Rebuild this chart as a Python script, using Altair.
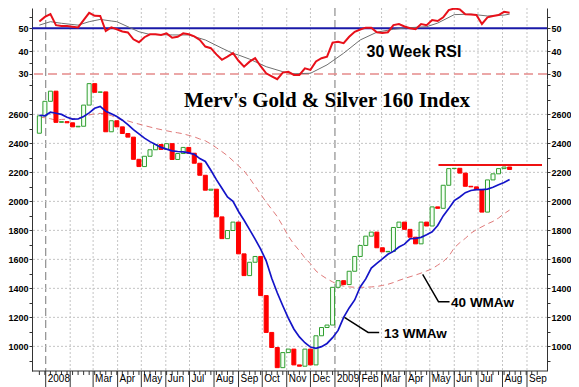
import altair as alt
import pandas as pd

# ---------------- values ----------------
TITLE = "Merv's Gold & Silver 160 Index"
RSI_LABEL = "30 Week RSI"
MA13_LABEL = "13 WMAw"
MA40_LABEL = "40 WMAw"

first_week = "2007-12-24"
first_open = 2470
closes = [2590, 2690, 2760, 2545, 2550, 2542, 2514, 2518, 2664, 2812,
          2752, 2755, 2480, 2556, 2514, 2468, 2443, 2290, 2240, 2311,
          2356, 2392, 2358, 2398, 2289, 2330, 2372, 2332, 2263, 2180,
          2077, 2084, 1893, 1743, 1799, 1857, 1638, 1488, 1580, 1620,
          1350, 1096, 992, 853, 957, 981, 872, 863, 981, 872,
          1073, 1130, 1147, 1407, 1453, 1426, 1518, 1620, 1696, 1760,
          1788, 1680, 1652, 1655, 1820, 1857, 1807, 1753, 1707, 1857,
          1830, 1962, 1952, 2111, 2226, 2228, 2195, 2104, 2100, 2081,
          1926, 2148, 2190, 2226, 2237, 2220]
ma13 = [2594, 2590, 2615, 2608, 2600, 2580, 2567, 2568, 2585, 2610,
        2642, 2655, 2622, 2605, 2585, 2560, 2530, 2495, 2465, 2436,
        2412, 2392, 2372, 2360, 2348, 2344, 2341, 2334, 2324, 2295,
        2275, 2215, 2150, 2090, 2030, 2000, 1930, 1870, 1805, 1740,
        1670, 1590, 1470, 1370, 1280, 1195, 1120, 1065, 1025, 995,
        986, 998, 1020, 1060, 1110, 1200, 1265, 1320, 1410, 1465,
        1540, 1572, 1603, 1635, 1655, 1685, 1705, 1742, 1745, 1752,
        1770, 1790, 1834, 1900, 1950, 2005, 2030, 2060, 2075, 2081,
        2081, 2085, 2097, 2115, 2130, 2150]
ma40 = [2580, 2577, 2570, 2560, 2565, 2567, 2570, 2575, 2585, 2596,
        2604, 2607, 2602, 2592, 2573, 2562, 2555, 2543, 2533, 2523,
        2513, 2503, 2495, 2487, 2479, 2473, 2466, 2455, 2445, 2430,
        2418, 2395, 2370, 2343, 2315, 2280, 2245, 2210, 2160, 2105,
        2050, 1995, 1945, 1895, 1830, 1760, 1705, 1660, 1610, 1570,
        1520, 1490, 1465, 1445, 1425, 1415, 1410, 1408, 1407, 1408,
        1410, 1413, 1420, 1428, 1440, 1455, 1468, 1480, 1492, 1505,
        1520, 1535, 1560, 1585, 1620, 1680, 1715, 1745, 1780, 1805,
        1825, 1845, 1862, 1885, 1915, 1940]
rsi = [53.0, 55.0, 56.2, 51.4, 51.0, 51.0, 50.7, 50.4, 53.6, 56.8,
       55.5, 55.4, 48.8, 50.4, 49.6, 48.6, 48.2, 45.2, 43.9, 46.1,
       47.4, 47.4, 47.1, 47.8, 45.9, 46.3, 47.8, 47.4, 46.5, 44.9,
       42.0, 41.3, 38.6, 36.2, 37.6, 39.1, 35.8, 33.2, 35.4, 36.9,
       33.4, 30.3, 29.0, 27.7, 30.6, 31.0, 29.6, 29.6, 32.5, 31.8,
       35.5, 36.9, 37.6, 43.7, 44.1, 43.5, 46.3, 48.5, 49.5, 50.3,
       50.3, 48.3, 48.0, 48.3, 51.4, 51.9, 50.8, 50.0, 49.6, 51.9,
       51.4, 53.6, 53.2, 54.8, 58.0, 58.7, 58.3, 56.2, 56.0, 55.8,
       51.9, 54.8, 55.4, 55.8, 57.2, 56.8]
rsi_signal_weeks = [0, 2, 4, 7, 9, 11, 13, 14, 16, 18, 20, 24, 27, 30, 33, 35, 36,
                    38, 41, 44, 46, 49, 52, 55, 58, 61, 64, 67, 70, 72, 75, 78,
                    81, 84, 85]
rsi_signal = [51.4, 52.9, 52.2, 51.4, 52.9, 53.9, 53.2, 52.9, 50.7, 48.5, 47.3,
              47.1, 47.1, 44.9, 41.3, 39.0, 38.3, 36.5, 33.2, 31.0, 30.1, 30.3,
              34.0, 39.1, 44.9, 48.3, 49.6, 50.3, 50.7, 52.3, 56.0, 56.2, 55.4,
              55.8, 56.2]

month_labels = ["2008", "", "Mar", "Apr", "May", "Jun", "Jul", "Aug", "Sep", "Oct",
                "Nov", "Dec", "2009", "Feb", "Mar", "Apr", "May", "Jun", "Jul",
                "Aug", "Sep"]
price_grid = [1000, 1200, 1400, 1600, 1800, 2000, 2200, 2400, 2600]
price_ticks = [900, 1000, 1100, 1200, 1300, 1400, 1500, 1600, 1700, 1800, 1900,
               2000, 2100, 2200, 2300, 2400, 2500, 2600, 2700, 2800]
rsi_ticks = [30, 35, 40, 45, 50, 55]
rsi_grid = [40]
rsi_mid = 50
rsi_low = 30
year_lines = ["2008-01-01", "2009-01-01"]
resistance_dates = ["2009-05-12", "2009-09-20"]
resistance_level = 2250
callout13_dates = ["2009-01-13", "2009-02-12", "2009-02-26"]
callout13_values = [1200, 1096, 1096]
callout40_dates = ["2009-04-22", "2009-05-12", "2009-05-26"]
callout40_values = [1497, 1308, 1308]
title_pos = ("2008-12-22", 2653)
ma13_text_pos = ("2009-03-04", 1061)
ma40_text_pos = ("2009-05-28", 1269)
rsi_text_pos = ("2009-04-11", 37.6)

# ---------------- tables ----------------
weeks = pd.date_range(first_week, periods=len(closes), freq="7D")
opens = [first_open] + closes[:-1]
candles = pd.DataFrame({
    "date": weeks, "open": opens, "close": closes,
    "dir": ["up" if c >= o else "down" for o, c in zip(opens, closes)],
})
ma13_df = pd.DataFrame({"date": weeks, "v": ma13})
ma40_df = pd.DataFrame({"date": weeks, "v": ma40})
rsi_df = pd.DataFrame({"date": weeks, "v": rsi})
sig_df = pd.DataFrame({"date": [weeks[i] for i in rsi_signal_weeks], "v": rsi_signal})
month_starts = pd.date_range("2008-01-01", periods=len(month_labels), freq="MS")
months_df = pd.DataFrame({"date": month_starts, "t": month_labels})
month_grid_df = pd.DataFrame({"date": [d for d in month_starts if d.month != 1]})
year_df = pd.DataFrame({"date": pd.to_datetime(year_lines)})
week_ticks_df = pd.DataFrame({"date": pd.date_range(first_week, "2009-09-20", freq="7D")})
price_grid_df = pd.DataFrame({"v": price_grid})
rsi_grid_df = pd.DataFrame({"v": rsi_grid})
res_df = pd.DataFrame({"date": pd.to_datetime(resistance_dates), "v": [resistance_level] * 2})
c13_df = pd.DataFrame({"date": pd.to_datetime(callout13_dates), "v": callout13_values, "o": [0, 1, 2]})
c40_df = pd.DataFrame({"date": pd.to_datetime(callout40_dates), "v": callout40_values, "o": [0, 1, 2]})


def one_text(pos, text):
    return pd.DataFrame({"date": [pd.Timestamp(pos[0])], "v": [pos[1]], "t": [text]})


# ---------------- geometry / scales / axes ----------------
W = 515          # plot width
H_RSI = 71       # RSI strip height (top of plot)
H = 363          # whole plot height (RSI strip + price strip)
PAD_L, PAD_R, PAD_B = 24, 24, 16
xs = alt.Scale(domain=[alt.DateTime(year=2007, month=12, date=21),
                       alt.DateTime(year=2009, month=9, date=20)], nice=False)
ys = alt.Scale(domain=[830, 2844], range=[H, H_RSI], nice=False, zero=False)
rs = alt.Scale(domain=[27.8, 58.9], range=[H_RSI, 0], nice=False, zero=False)
LINE = "#333333"


def yaxis(orient, values, expr):
    return alt.Axis(orient=orient, values=values, labelExpr=expr, format="d", title=None,
                    grid=False, tickSize=3, labelPadding=1, labelFont="Liberation Sans",
                    labelFontSize=9, labelFontWeight="bold", labelColor="black",
                    domainColor=LINE, tickColor=LINE, labelOverlap=False)


price_expr = "(datum.value % 200 == 0 && datum.value <= 2600) ? datum.label : ''"
rsi_expr = "datum.value % 10 == 0 ? datum.label : ''"


def X():
    return alt.X("date:T", scale=xs, axis=None)


def YP(field="v", axis=None):
    return alt.Y(f"{field}:Q", scale=ys, axis=axis)


def YR(field="v", axis=None):
    return alt.Y(f"{field}:Q", scale=rs, axis=axis)


grid_style = dict(color="#c4c4c4", strokeDash=[2, 2], strokeWidth=1)

vgrid = alt.Chart(month_grid_df).mark_rule(**grid_style).encode(x=X())
years = alt.Chart(year_df).mark_rule(color="#8f8f8f", strokeDash=[8, 4], strokeWidth=1.2).encode(x=X())

# bottom date axis built from marks
x_line = alt.Chart(pd.DataFrame({"k": [0]})).mark_rule(color=LINE).encode(y=alt.value(H))
m_ticks = alt.Chart(months_df).mark_rule(color=LINE).encode(x=X(), y=alt.value(H), y2=alt.value(H + 16))
w_ticks = alt.Chart(week_ticks_df).mark_rule(color=LINE).encode(x=X(), y=alt.value(H), y2=alt.value(H + 4))
m_text = alt.Chart(months_df).mark_text(
    font="Liberation Sans", fontSize=10, align="left", baseline="top", dx=2, color="black").encode(
    x=X(), y=alt.value(H + 3), text="t:N")

# RSI strip
r_grid = alt.Chart(rsi_grid_df).mark_rule(**grid_style).encode(
    y=YR(axis=yaxis("right", rsi_ticks, rsi_expr)))
r_mid = alt.Chart(pd.DataFrame({"v": [rsi_mid]})).mark_rule(color="#1a1aa8", strokeWidth=2).encode(y=YR())
r_low = alt.Chart(pd.DataFrame({"v": [rsi_low]})).mark_rule(
    color="#e58a8a", strokeWidth=1.5, strokeDash=[9, 5]).encode(y=YR())
r_sig = alt.Chart(sig_df).mark_line(color="#707070", strokeWidth=1).encode(x=X(), y=YR())
r_line = alt.Chart(rsi_df).mark_line(color="#e8101a", strokeWidth=2).encode(
    x=X(), y=YR(axis=yaxis("left", rsi_ticks, rsi_expr)))
r_text = alt.Chart(one_text(rsi_text_pos, RSI_LABEL)).mark_text(
    font="Liberation Sans", fontSize=16, fontWeight="bold", align="center",
    baseline="alphabetic", color="black").encode(x=X(), y=YR(), text="t:N")

# price strip
p_grid = alt.Chart(price_grid_df).mark_rule(**grid_style).encode(
    y=YP(axis=yaxis("right", price_ticks, price_expr)))
p_ma40 = alt.Chart(ma40_df).mark_line(color="#e07a7a", strokeWidth=1, strokeDash=[6, 4]).encode(
    x=X(), y=YP())
p_bars = alt.Chart(candles).mark_bar(size=4, strokeWidth=1).encode(
    x=X(),
    y=YP("open", axis=yaxis("left", price_ticks, price_expr)),
    y2="close:Q",
    fill=alt.Fill("dir:N", scale=alt.Scale(domain=["up", "down"], range=["#f4fff4", "#ff0000"]), legend=None),
    stroke=alt.Stroke("dir:N", scale=alt.Scale(domain=["up", "down"], range=["#2f9e2f", "#ff0000"]), legend=None),
)
p_ma13 = alt.Chart(ma13_df).mark_line(color="#1414c8", strokeWidth=1.7).encode(x=X(), y=YP())
p_res = alt.Chart(res_df).mark_line(color="#ee1111", strokeWidth=2).encode(x=X(), y=YP())
p_c13 = alt.Chart(c13_df).mark_line(color="black", strokeWidth=1.4).encode(x=X(), y=YP(), order="o:Q")
p_c40 = alt.Chart(c40_df).mark_line(color="black", strokeWidth=1.4).encode(x=X(), y=YP(), order="o:Q")
txt = dict(font="Liberation Sans", fontSize=13.5, fontWeight="bold", align="left",
           baseline="alphabetic", color="black")
p_t13 = alt.Chart(one_text(ma13_text_pos, MA13_LABEL)).mark_text(**txt).encode(x=X(), y=YP(), text="t:N")
p_t40 = alt.Chart(one_text(ma40_text_pos, MA40_LABEL)).mark_text(**txt).encode(x=X(), y=YP(), text="t:N")
p_title = alt.Chart(one_text(title_pos, TITLE)).mark_text(
    font="Liberation Serif", fontSize=21, fontWeight="bold", align="center",
    baseline="alphabetic", color="black").encode(x=X(), y=YP(), text="t:N")

chart = alt.layer(
    vgrid, years, x_line, m_ticks, w_ticks, m_text,
    r_grid, r_mid, r_low, r_sig, r_line, r_text,
    p_grid, p_ma40, p_bars, p_ma13, p_res, p_c13, p_c40, p_t13, p_t40, p_title,
).resolve_scale(y="independent").resolve_axis(y="independent").properties(
    width=W, height=H, background="white",
    padding={"left": PAD_L, "top": 0, "right": PAD_R, "bottom": PAD_B},
    autosize=alt.AutoSizeParams(type="none"),
).configure_view(stroke=None)

chart.save("out.html", embed_options={"renderer": "svg", "actions": False})
